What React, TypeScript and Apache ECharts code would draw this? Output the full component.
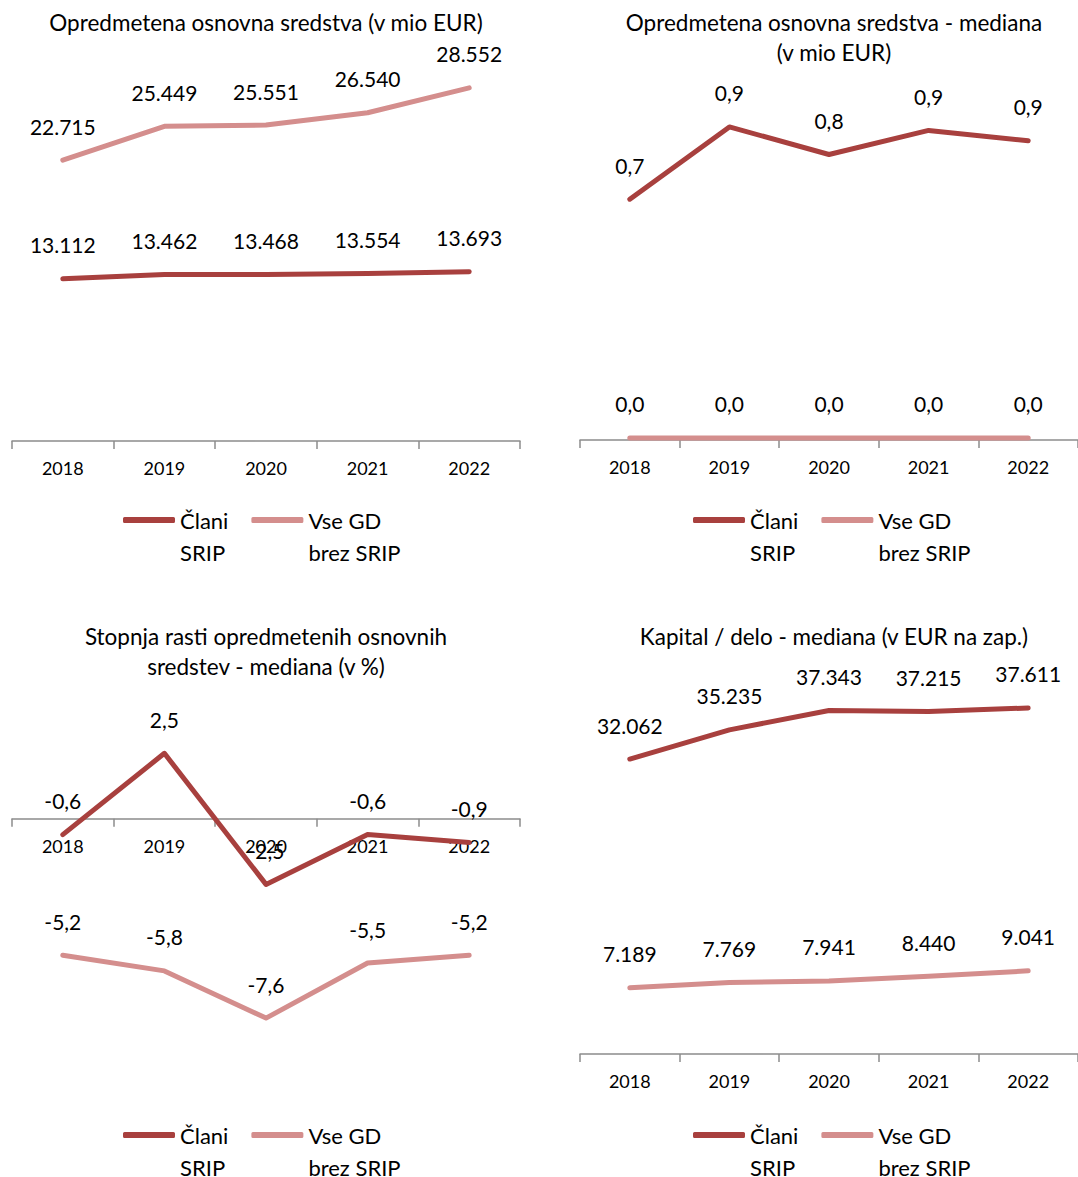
import React, { useEffect, useRef } from "react";
import * as echarts from "echarts";

const years = ["2018", "2019", "2020", "2021", "2022"];
const seriesNames = ["Člani\nSRIP", "Vse GD\nbrez SRIP"];

// Chart 1: Opredmetena osnovna sredstva (v mio EUR)
const osClani = [13112, 13462, 13468, 13554, 13693];
const osVse = [22715, 25449, 25551, 26540, 28552];
// Chart 2: mediana (v mio EUR)
const medClani = [0.70, 0.91, 0.83, 0.90, 0.87];
const medVse = [0.006, 0.006, 0.006, 0.006, 0.006];
// Chart 3: Stopnja rasti (v %)
const rastClani = [-0.6, 2.5, -2.5, -0.6, -0.9];
const rastVse = [-5.2, -5.8, -7.6, -5.5, -5.2];
// Chart 4: Kapital / delo
const kdClani = [32062, 35235, 37343, 37215, 37611];
const kdVse = [7189, 7769, 7941, 8440, 9041];

const titles = [
  "Opredmetena osnovna sredstva (v mio EUR)",
  "Opredmetena osnovna sredstva - mediana\n(v mio EUR)",
  "Stopnja rasti opredmetenih osnovnih\nsredstev - mediana (v %)",
  "Kapital / delo - mediana (v EUR na zap.)",
];

const DARK = "#A8403E";
const LIGHT = "#D48E8D";
const FONT = "Lato, 'Open Sans', sans-serif";

const fmtThousands = (v: number) =>
  String(Math.round(v)).replace(/\B(?=(\d{3})+(?!\d))/g, ".");
const fmtDec = (v: number) => v.toFixed(1).replace(".", ",");

export default function App() {
  const ref = useRef<HTMLDivElement>(null);
  useEffect(() => {
    if (!ref.current) return;
    const chart = echarts.init(ref.current, null, { renderer: "svg" });

    const grids = [
      { left: 12, top: 70, width: 508, height: 371 },
      { left: 580, top: 96, width: 508, height: 344 },
      { left: 12, top: 714, width: 508, height: 367 },
      { left: 580, top: 686, width: 508, height: 368 },
    ];
    const yRanges = [
      [0, 30000],
      [0, 1],
      [-10, 4],
      [0, 40000],
    ];
    const data = [
      [osClani, osVse],
      [medClani, medVse],
      [rastClani, rastVse],
      [kdClani, kdVse],
    ];
    const fmts = [fmtThousands, fmtDec, fmtDec, fmtThousands];
    const titleCenters = [
      [266, 22],
      [834, 22],
      [266, 636],
      [834, 636],
    ];
    const legendPos = [
      [118, 521],
      [688, 521],
      [118, 1136],
      [688, 1136],
    ];

    const xAxis = grids.map((g, i) => {
      const [mn, mx] = yRanges[i];
      // place the category axis at value 0
      const zeroOffset = mn < 0 ? -(g.height * (0 - mn)) / (mx - mn) : 0;
      return {
        type: "category",
        gridIndex: i,
        data: years,
        boundaryGap: true,
        position: "bottom",
        offset: zeroOffset,
        axisLine: { show: true, onZero: false, lineStyle: { color: "#8C8C8C", width: 1.5 } },
        axisTick: { show: true, length: 8, lineStyle: { color: "#8C8C8C", width: 1.5 } },
        axisLabel: { color: "#000", fontSize: 18, fontFamily: FONT, margin: 18 },
        splitLine: { show: false },
        z: 1,
      };
    });
    const yAxis = grids.map((_, i) => ({
      type: "value",
      gridIndex: i,
      min: yRanges[i][0],
      max: yRanges[i][1],
      show: false,
      splitLine: { show: false },
    }));

    const series: any[] = [];
    data.forEach((pair, i) => {
      pair.forEach((vals, j) => {
        const color = j === 0 ? DARK : LIGHT;
        series.push({
          type: "line",
          name: seriesNames[j],
          xAxisIndex: i,
          yAxisIndex: i,
          data: vals,
          symbol: "circle",
          symbolSize: 1,
          showSymbol: true,
          smooth: false,
          lineStyle: { color, width: 5, cap: "round", join: "round" },
          itemStyle: { color },
          label: {
            show: true,
            position: "top",
            distance: 23,
            color: "#000",
            fontSize: 21,
            fontFamily: FONT,
            formatter: (p: any) => fmts[i](p.value),
          },
          labelLayout: { hideOverlap: false },
          z: j === 0 ? 3 : 2,
        });
      });
    });

    const legend = legendPos.map(([x, y]) => ({
      left: x,
      top: y - 54,
      orient: "horizontal",
      itemWidth: 52,
      itemHeight: 6,
      itemGap: 23,
      itemTextGap: 4,
      icon: "roundRect",
      data: [
        { name: seriesNames[0], itemStyle: { color: DARK } },
        { name: seriesNames[1], itemStyle: { color: LIGHT } },
      ],
      formatter: (name: string) => " \n" + name,
      textStyle: {
        color: "#000",
        fontSize: 22,
        fontFamily: FONT,
        lineHeight: 32,
      },
      selectedMode: false,
    }));

    const graphic = titles.map((t, i) => ({
      type: "text",
      x: titleCenters[i][0],
      y: titleCenters[i][1] - 15,
      style: {
        text: t,
        fill: "#000",
        fontSize: 22.5,
        fontFamily: FONT,
        lineHeight: 30,
        textAlign: "center",
        verticalAlign: "top",
      },
    }));

    chart.setOption({
      animation: false,
      backgroundColor: "#fff",
      grid: grids,
      xAxis,
      yAxis,
      series,
      legend,
      graphic,
    });
    return () => chart.dispose();
  }, []);
  return (
    <div
      ref={ref}
      style={{ position: "absolute", left: 0, top: 0, width: 1078, height: 1177 }}
    />
  );
}
